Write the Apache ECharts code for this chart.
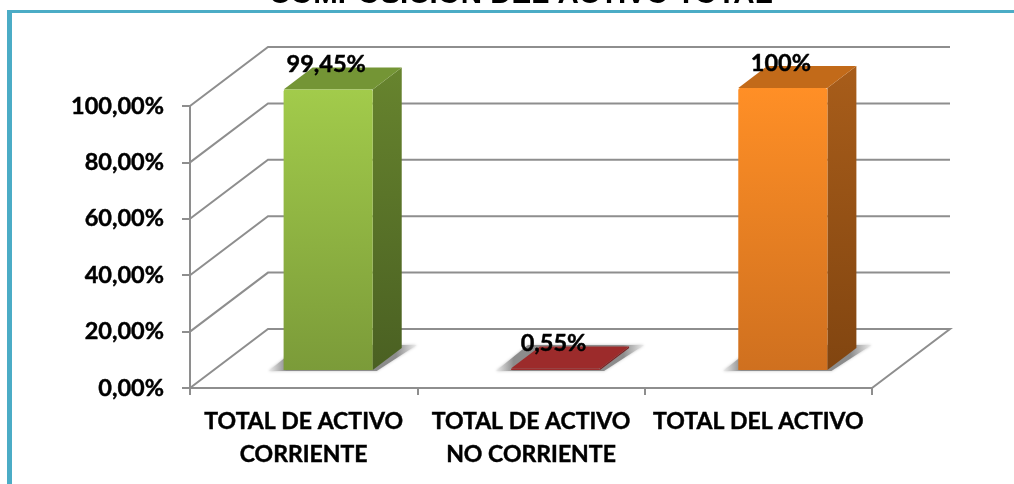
<!DOCTYPE html>
<html>
<head>
<meta charset="utf-8">
<script src="https://cdn.jsdelivr.net/npm/echarts@6/dist/echarts.min.js"></script>
<style>
  html, body { margin: 0; padding: 0; background: #fff; }
  #chart { width: 1014px; height: 484px; }
</style>
</head>
<body>
<div id="chart"></div>
<script>
const titleText = 'COMPOSICION DEL ACTIVO TOTAL';
const categories = ['TOTAL DE ACTIVO\nCORRIENTE', 'TOTAL DE ACTIVO\nNO CORRIENTE', 'TOTAL DEL ACTIVO'];
const values = [99.45, 0.55, 100];
const valueLabels = ['99,45%', '0,55%', '100%'];
const yTicks = [0, 20, 40, 60, 80, 100];
const yTickLabels = ['0,00%', '20,00%', '40,00%', '60,00%', '80,00%', '100,00%'];

// front, side, top colours of each bar
const barColors = [
  { front: ['#a2cb4b', '#7b9b39'], side: ['#67842e', '#4a6022'], top: '#749535' },
  { front: ['#9c2b2b', '#9c2b2b'], side: ['#7a2020', '#7a2020'], top: '#9c2b2b' },
  { front: ['#ff8f26', '#cf701f'], side: ['#a85d1a', '#814510'], top: '#c26a19' }
];

const gridColor = '#8e8e8e';
const frameColor = '#4bacc6';
const font = 'Lato';
const textWeight = 0.45; // thin outline, Lato bold comes out lighter than the original

// fake 3d offsets of the wall, and of the bars inside it
const wallDx = 78, wallDy = 59;
const barShiftX = 24.5, barShiftY = 18;
const barDepthX = 29, barDepthY = 22;
const barRatio = 0.392;

function renderWalls(params, api) {
  const y = api.coord([0, api.value(1)])[1];
  const sys = params.coordSys;
  const left = sys.x;
  const right = sys.x + sys.width;
  const points = [[left, y], [left + wallDx, y - wallDy], [right + wallDx, y - wallDy]];
  // the floor closes on the right side
  if (api.value(1) === 0) points.push([right, y]);
  return { type: 'polyline', shape: { points }, style: { stroke: gridColor, lineWidth: 2, fill: null } };
}

function renderBar(params, api) {
  const i = api.value(0);
  const base = api.coord([i, 0]);
  const top = api.coord([i, api.value(1)]);
  const w = api.size([1, 0])[0] * barRatio;
  const x0 = base[0] + barShiftX - w / 2;
  const x1 = x0 + w;
  const y0 = base[1] - barShiftY;
  const y1 = top[1] - barShiftY;
  const dx = barDepthX, dy = barDepthY;
  const c = barColors[i];
  const grad = (arr) => new echarts.graphic.LinearGradient(0, 0, 0, 1, [
    { offset: 0, color: arr[0] }, { offset: 1, color: arr[1] }
  ]);
  // shadow fades out towards both ends
  const shadowFill = new echarts.graphic.LinearGradient(0, 0, 1, 0, [
    { offset: 0, color: '#eeeeee' },
    { offset: 0.12, color: '#8c8c8c' },
    { offset: 0.86, color: '#8c8c8c' },
    { offset: 1, color: '#eeeeee' }
  ]);
  return {
    type: 'group',
    children: [
      {
        type: 'polygon',
        shape: { points: [[x0 - 15, y0 + 1], [x1 + 4, y0 + 1], [x1 + dx + 15, y0 - dy - 3], [x0 + 17, y0 - dy - 3]] },
        style: { fill: shadowFill, shadowBlur: 3, shadowColor: '#c4c4c4' }
      },
      {
        type: 'polygon',
        shape: { points: [[x1, y1], [x1 + dx, y1 - dy], [x1 + dx, y0 - dy], [x1, y0]] },
        style: { fill: grad(c.side) }
      },
      {
        type: 'polygon',
        shape: { points: [[x0, y1], [x0 + dx, y1 - dy], [x1 + dx, y1 - dy], [x1, y1]] },
        style: { fill: c.top }
      },
      {
        type: 'rect',
        shape: { x: x0, y: y1, width: w, height: y0 - y1, r: [2, 2, 0, 0] },
        style: { fill: grad(c.front) }
      }
    ]
  };
}

function renderValueLabel(params, api) {
  const i = api.value(0);
  const top = api.coord([i, api.value(1)]);
  return {
    type: 'text',
    style: {
      x: top[0] + barShiftX - 2,
      y: top[1] - barShiftY - 25,
      text: valueLabels[i],
      fill: '#000',
      stroke: '#000',
      lineWidth: textWeight,
      font: 'bold 23.5px ' + font,
      align: 'center',
      verticalAlign: 'middle'
    }
  };
}

const chart = echarts.init(document.getElementById('chart'), null, { renderer: 'canvas' });
chart.setOption({
  animation: false,
  backgroundColor: '#fff',
  title: {
    text: titleText,
    left: 264,
    top: -25,
    textStyle: { fontFamily: 'Liberation Sans', fontWeight: 'bold', fontSize: 29.5, color: '#000' }
  },
  grid: { left: 190, right: 142, top: 106, bottom: 96 },
  graphic: [
    { type: 'rect', shape: { x: 7, y: 10, width: 1007, height: 3 }, style: { fill: frameColor } },
    { type: 'rect', shape: { x: 7, y: 10, width: 5, height: 474 }, style: { fill: frameColor } }
  ],
  xAxis: {
    type: 'category',
    data: categories,
    axisLine: { lineStyle: { color: gridColor, width: 2 } },
    axisTick: { show: true, length: 7, lineStyle: { color: gridColor, width: 2 } },
    axisLabel: {
      interval: 0, margin: 17, color: '#000', fontFamily: font, fontWeight: 'bold',
      fontSize: 23, lineHeight: 33, textBorderColor: '#000', textBorderWidth: textWeight
    }
  },
  yAxis: {
    type: 'value',
    min: 0,
    max: 100,
    interval: 20,
    axisLine: { show: true, lineStyle: { color: gridColor, width: 2 } },
    axisTick: { show: true, length: 8, lineStyle: { color: gridColor, width: 2 } },
    splitLine: { show: false },
    axisLabel: {
      margin: 26, color: '#000', fontFamily: font, fontWeight: 'bold', fontSize: 23.5,
      padding: [4, 0, 0, 0],
      textBorderColor: '#000', textBorderWidth: textWeight,
      formatter: (v) => yTickLabels[yTicks.indexOf(v)]
    }
  },
  series: [
    { type: 'custom', z: 1, renderItem: renderWalls, data: yTicks.map((v) => [0, v]), silent: true },
    { type: 'custom', z: 2, renderItem: renderBar, data: values.map((v, i) => [i, v]), silent: true },
    { type: 'custom', z: 3, renderItem: renderValueLabel, data: values.map((v, i) => [i, v]), silent: true }
  ]
});
</script>
</body>
</html>
